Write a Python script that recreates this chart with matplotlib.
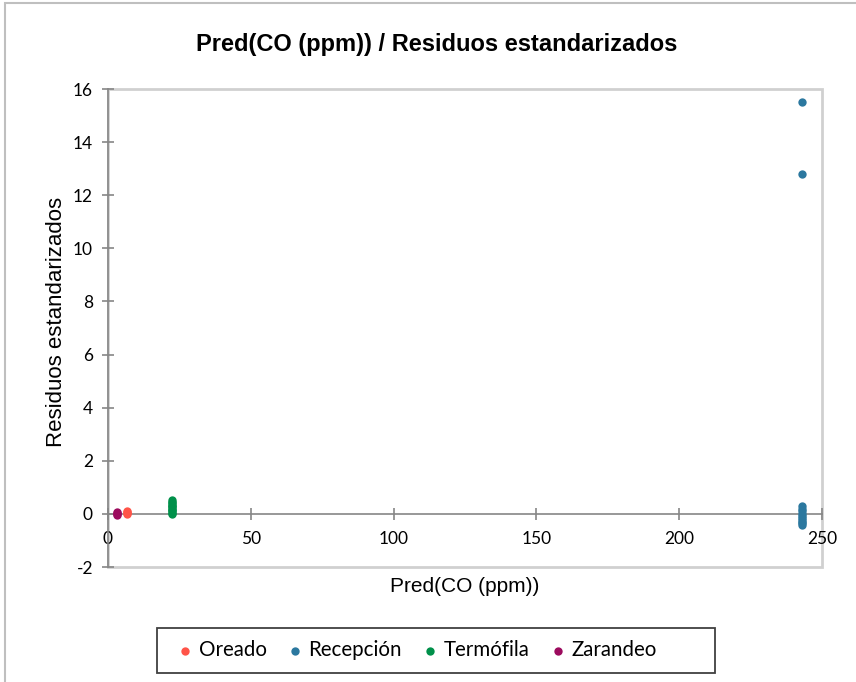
import matplotlib
matplotlib.use("Agg")
import matplotlib.pyplot as plt
from matplotlib.patches import Rectangle

plt.rcParams["axes.unicode_minus"] = False

# data
series = ["Oreado", "Recepción", "Termófila", "Zarandeo"]
colors = ["#FF5448", "#2B789F", "#00904A", "#9C0B5E"]

oreado_x = [6.5, 6.5, 6.5, 6.5]
oreado_y = [0.0, 0.04, 0.08, 0.12]

recepcion_x = [243.0] * 12
recepcion_y = [15.5, 12.8, 0.3, 0.2, 0.1, 0.0, -0.08, -0.15, -0.22, -0.3, -0.36, -0.42]

termofila_x = [22.3] * 11
termofila_y = [0.0, 0.05, 0.1, 0.15, 0.2, 0.25, 0.3, 0.35, 0.4, 0.45, 0.52]

zarandeo_x = [3.3, 3.3, 3.3, 3.3]
zarandeo_y = [-0.03, 0.0, 0.03, 0.06]

xs = [oreado_x, recepcion_x, termofila_x, zarandeo_x]
ys = [oreado_y, recepcion_y, termofila_y, zarandeo_y]

xticks = [0, 50, 100, 150, 200, 250]
yticks = [-2, 0, 2, 4, 6, 8, 10, 12, 14, 16]

fig = plt.figure(figsize=(8.56, 6.82), dpi=100)
# outer chart border
fig.patches.append(Rectangle((5 / 856, -0.01), 1.0, 1 - 3 / 682 + 0.01, transform=fig.transFigure,
                             fill=False, edgecolor="#BFBFBF", linewidth=1.5))

ax = fig.add_axes([108 / 856, 115 / 682, 714 / 856, 478 / 682])
for name, c, x, y in zip(series, colors, xs, ys):
    ax.scatter(x, y, s=36, color=c, label=name, zorder=3, linewidths=0)

ax.set_xlim(0, 250)
ax.set_ylim(-2, 16)
ax.set_xticks(xticks)
ax.set_yticks(yticks)

# light plot-area frame
ax.add_patch(Rectangle((0, 0), 1, 1, transform=ax.transAxes, fill=False,
                       edgecolor="#D0D0D0", linewidth=2, zorder=1, clip_on=False))
for s in ["top", "right"]:
    ax.spines[s].set_visible(False)
ax.spines["bottom"].set_position(("data", 0))
ax.spines["bottom"].set_color("#868686")
ax.spines["left"].set_color("#868686")
ax.spines["bottom"].set_linewidth(1.2)
ax.spines["left"].set_linewidth(1.2)
ax.tick_params(direction="inout", length=8.6, width=1.2, color="#868686",
               labelsize=12.5, labelcolor="black")
ax.tick_params(axis="x", pad=8)
ax.tick_params(axis="y", pad=6.5)
for lab in ax.get_xticklabels() + ax.get_yticklabels():
    lab.set_fontfamily("Lato")

fig.text(437 / 856, 1 - 44 / 682, "Pred(CO (ppm)) / Residuos estandarizados", ha="center", va="center",
         fontsize=17, fontweight="bold", family="Liberation Sans")
fig.text(465 / 856, 1 - 586 / 682, "Pred(CO (ppm))", ha="center", va="center",
         fontsize=15, family="Liberation Sans")
fig.text(57 / 856, 1 - 322 / 682, "Residuos estandarizados", ha="center", va="center",
         rotation=90, fontsize=16, family="Liberation Sans")

# legend box drawn by hand, Excel pads it unevenly
fig.patches.append(Rectangle((157 / 856, 1 - 673 / 682), 558 / 856, 45 / 682, transform=fig.transFigure,
                             fill=False, edgecolor="#404040", linewidth=1.3))
leg = fig.legend(loc="center left", bbox_to_anchor=(173 / 856, 1 - 650 / 682), ncol=4,
                 frameon=False, handletextpad=0.05, columnspacing=0.78,
                 markerscale=1.0, prop={"family": "Lato", "size": 14.8}, borderpad=0,
                 borderaxespad=0, handlelength=1.2)

fig.savefig("out.png", dpi=100)
